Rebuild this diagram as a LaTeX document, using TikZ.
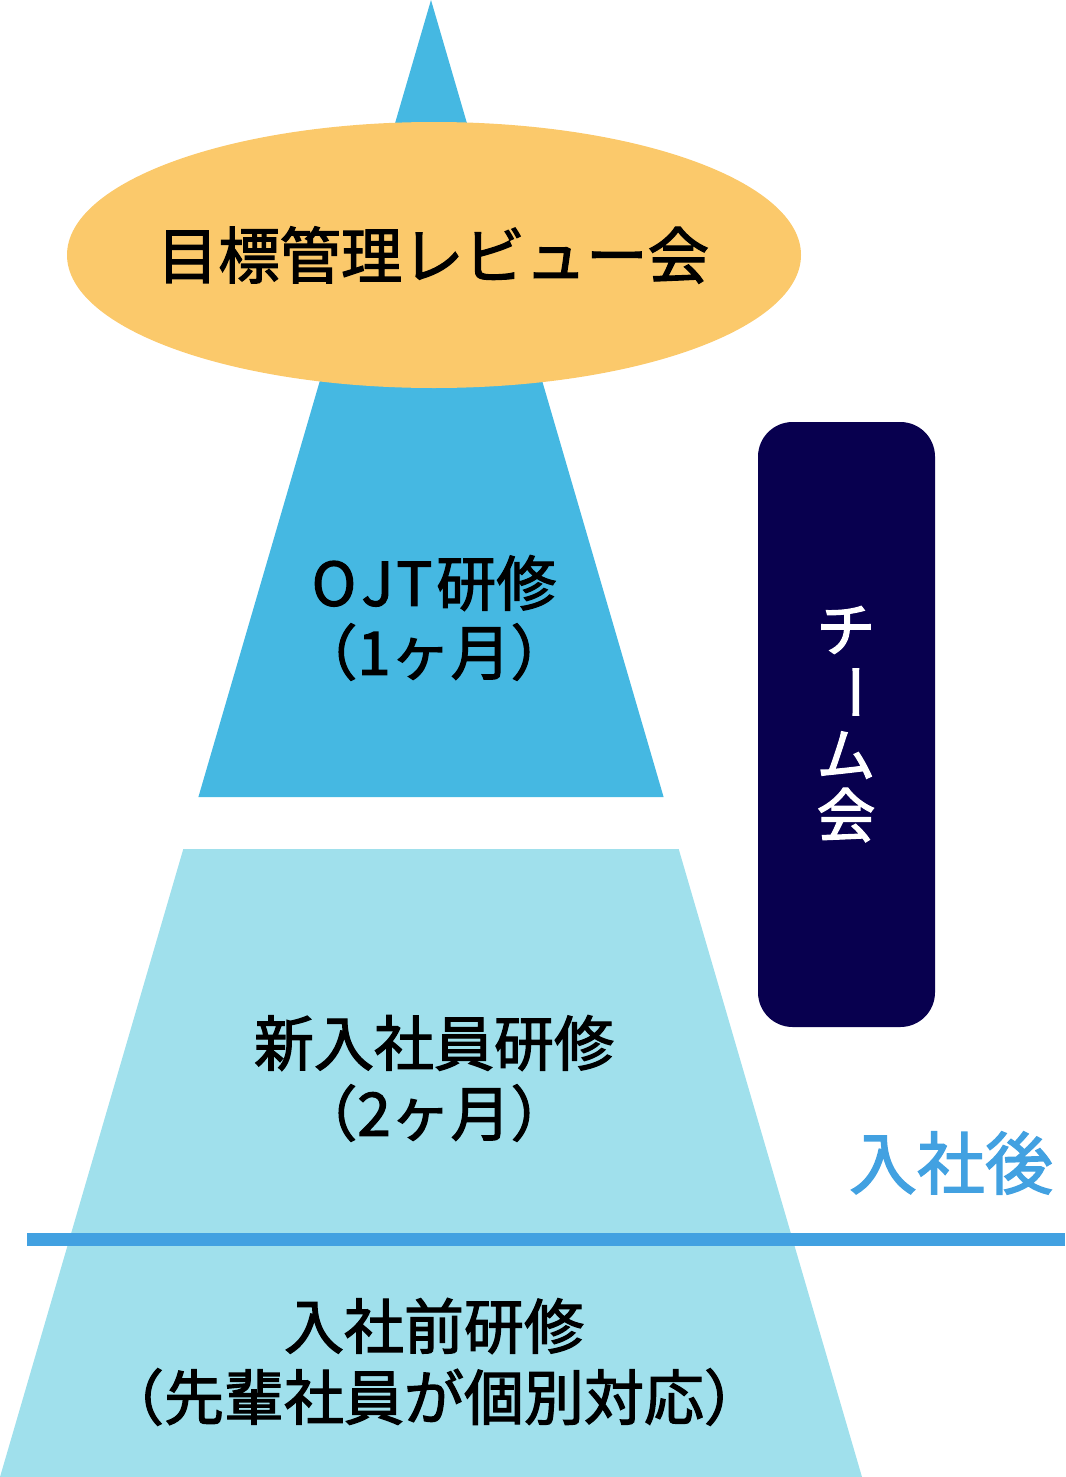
\documentclass[tikz,border=0pt]{standalone}
\usepackage{fontspec}
\newfontfamily\jp[RawFeature={embolden=2}]{Noto Sans CJK JP}
\definecolor{topblue}{HTML}{45B8E2}
\definecolor{lightblue}{HTML}{A0E0EC}
\definecolor{goldfill}{HTML}{FBC96B}
\definecolor{navy}{HTML}{08004F}
\definecolor{lineblue}{HTML}{42A1E1}
\tikzset{
  lbl/.style={font=\jp\fontsize{45}{52}\selectfont, text=black, inner sep=0pt, anchor=center},
  vlbl/.style={font=\jp\fontsize{44}{50}\selectfont, text=white, inner sep=0pt, anchor=center},
}
\begin{document}
\begin{tikzpicture}[x=0.75pt,y=-0.75pt]
\useasboundingbox (0,0) rectangle (1065,1477);
% top triangle
\fill[topblue] (431,0) -- (198.4,797) -- (663.6,797) -- cycle;
% ellipse
\fill[goldfill] (434,255) ellipse [x radius=367, y radius=133];
% lower trapezoid
\fill[lightblue] (183.3,849) -- (678.7,849) -- (862,1477) -- (0,1477) -- cycle;
% separator line
\coordinate (lineL) at (27,1239);
\coordinate (lineR) at (1065,1239);
\draw[lineblue, line width=13*0.75pt] (lineL) -- (lineR);
% team meeting box
\fill[navy, rounded corners=26pt] (758,422) rectangle (935,1027);
% texts
\node[lbl, font=\jp\fontsize{46}{52}\selectfont] (review) at (433,255) {目標管理レビュー会};
\node[lbl] (ojt1) at (434,583) {O\kern4pt J\kern2pt T\kern3pt 研修};
\node[lbl] (ojt2) at (434,652) {（1ヶ月）};
\node[lbl] (new1) at (434,1043) {新入社員研修};
\node[lbl] (new2) at (434,1113) {（2ヶ月）};
\node[lbl] (pre1) at (434,1326) {入社前研修};
\node[lbl] (pre2) at (434,1397) {（先輩社員が個別対応）};
\node[vlbl] (t1) at (846,630) {チ};
\node[vlbl, rotate=-90] (t2) at (846,692) {ー};
\node[vlbl] (t3) at (846,755) {ム};
\node[vlbl] (t4) at (846,815) {会};
\node[font=\jp\fontsize{51}{58}\selectfont, text=lineblue, inner sep=0pt, anchor=center] (after) at (951,1163) {入社後};
\end{tikzpicture}
\end{document}
